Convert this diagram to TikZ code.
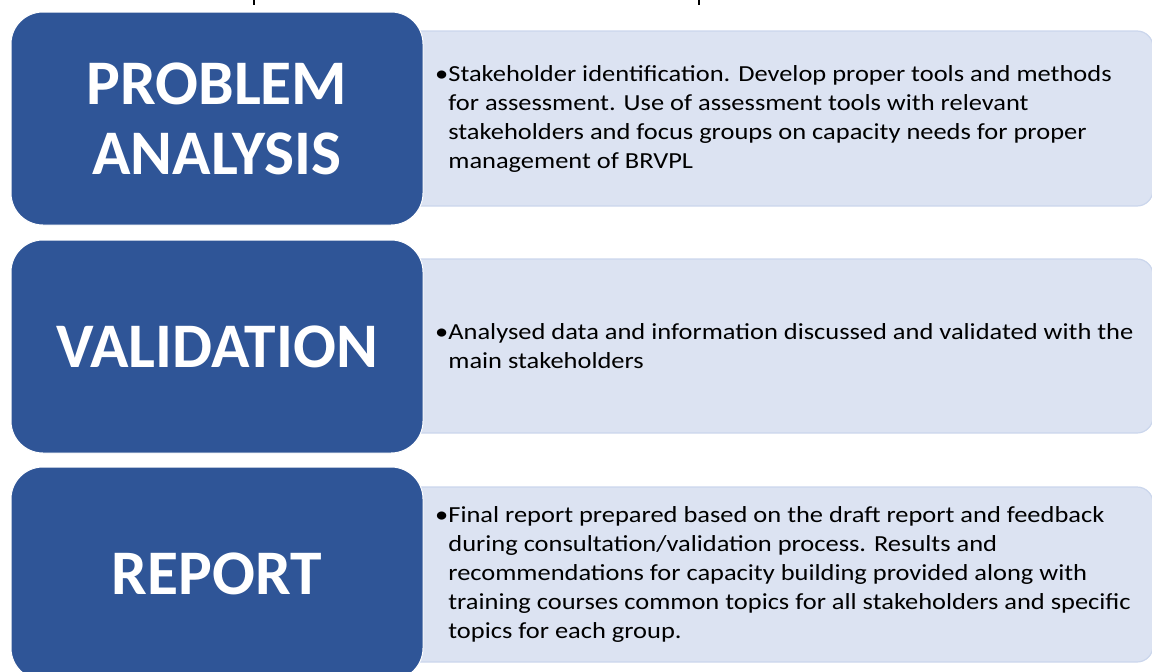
\documentclass[tikz,border=0pt]{standalone}
\usepackage{fontspec}
\setmainfont{Carlito}
\newfontfamily\panefont[FakeStretch=1.15]{Carlito}
\definecolor{headblue}{RGB}{47,85,151}
\definecolor{paneblue}{RGB}{220,227,242}
\definecolor{paneedge}{RGB}{203,214,236}

% light panel: square left side (hidden behind the heading block), rounded right corners
\newcommand\panebox[2]{%
  \path[pane] (420,#1) -- (1137,#1) arc(-90:0:16) -- (1153,#2-16) arc(0:90:16) -- (420,#2) -- cycle;}

\begin{document}
\begin{tikzpicture}[x=1pt,y=-1pt,
  head/.style={fill=headblue, draw=white, line width=1pt, rounded corners=32pt,
    minimum width=412pt, minimum height=213pt, inner sep=0pt, text=white,
    font=\fontsize{63.5}{70}\selectfont\bfseries, align=center},
  pane/.style={fill=paneblue, draw=paneedge, line width=1.2pt},
  body/.style={anchor=west, inner sep=0pt, align=left,
    font=\panefont\fontsize{23}{29}\selectfont, text=black},
  stub/.style={line width=1.3pt, black}]
\useasboundingbox (0,0) rectangle (1152,672);
\clip (0,0) rectangle (1152,672);

% descenders of the caption line above the frame
\draw[stub] (254,0) -- (254,5);
\draw[stub] (699,0) -- (699,5);

% detail panels
\panebox{31}{206}
\panebox{259}{433}
\panebox{487}{662}

% heading blocks
\node[head] (problem) at (217,118.5) {PROBLEM\\ANALYSIS};
\node[head] (validation) at (217,346.5) {VALIDATION};
\node[head] (report) at (217,573.5) {REPORT};

% panel texts
\node[body] (problemtext) at (435,118.5) {%
  •Stakeholder identification. Develop proper tools and methods\\
  \phantom{•}for assessment. Use of assessment tools with relevant\\
  \phantom{•}stakeholders and focus groups on capacity needs for proper\\
  \phantom{•}management of BRVPL};
\node[body] (validationtext) at (435,346) {%
  •Analysed data and information discussed and validated with the\\
  \phantom{•}main stakeholders};
\node[body] (reporttext) at (435,574) {%
  •Final report prepared based on the draft report and feedback\\
  \phantom{•}during consultation/validation process. Results and\\
  \phantom{•}recommendations for capacity building provided along with\\
  \phantom{•}training courses common topics for all stakeholders and specific\\
  \phantom{•}topics for each group.};
\end{tikzpicture}
\end{document}
